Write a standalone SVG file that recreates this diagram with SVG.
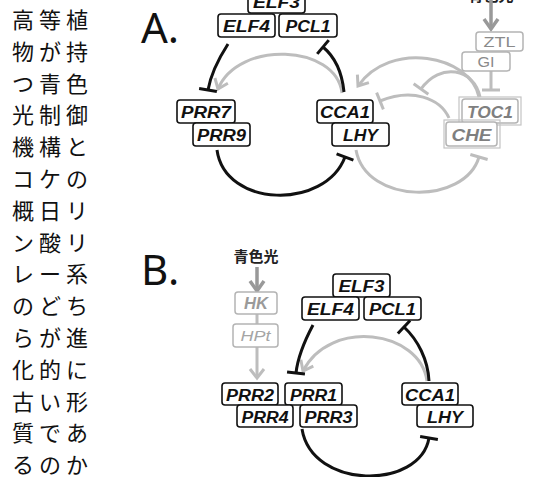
<svg xmlns="http://www.w3.org/2000/svg" width="558" height="477" viewBox="0 0 558 477">
<style>
.bg{fill:#fff}
.jp text{font-family:"Noto Sans CJK JP","Noto Sans CJK SC",sans-serif;font-size:22px;fill:#111}
.lbl{font-family:"Noto Sans","DejaVu Sans",sans-serif;font-size:42px;fill:#111}
.nb{fill:#fff;stroke:#111;stroke-width:1.6}
.nt{font-family:"Liberation Sans",Arial,sans-serif;font-size:16px;font-weight:bold;font-style:italic;fill:#111;text-anchor:middle}
.gb{fill:#fff;stroke:#b4b4b4;stroke-width:1.5}
.go{fill:none;stroke:#c4c4c4;stroke-width:1.2}
.gt{font-family:"Liberation Sans",Arial,sans-serif;font-size:15px;fill:#8a8a8a;text-anchor:middle}
.gti{font-family:"Liberation Sans",Arial,sans-serif;font-size:16px;font-weight:bold;font-style:italic;fill:#7f7f7f;text-anchor:middle}
.blue{font-family:"Noto Sans CJK JP",sans-serif;font-size:15px;font-weight:bold;fill:#222;text-anchor:middle}
.k{fill:none;stroke:#111;stroke-width:3}
.g{fill:none;stroke:#bdbdbd;stroke-width:3}
.gd{fill:none;stroke:#999;stroke-width:3.5}
</style>
<defs>
<marker id="tk" markerUnits="userSpaceOnUse" orient="auto" overflow="visible" markerWidth="20" markerHeight="20" refX="0" refY="0"><path d="M0,-9 L0,9" stroke="#111" stroke-width="3"/></marker>
<marker id="tg" markerUnits="userSpaceOnUse" orient="auto" overflow="visible" markerWidth="20" markerHeight="20" refX="0" refY="0"><path d="M0,-9 L0,9" stroke="#bdbdbd" stroke-width="3"/></marker>
<marker id="ag" markerUnits="userSpaceOnUse" orient="auto" overflow="visible" markerWidth="20" markerHeight="20" refX="0" refY="0"><path d="M-9,-7 L0,0 L-9,7" fill="none" stroke="#bdbdbd" stroke-width="3"/></marker>
<marker id="ad" markerUnits="userSpaceOnUse" orient="auto" overflow="visible" markerWidth="20" markerHeight="20" refX="0" refY="0"><path d="M-10,-7 L0,0 L-10,7" fill="none" stroke="#999" stroke-width="3.5"/></marker>
</defs>
<rect class="bg" x="0" y="0" width="558" height="477"/>

<g id="question" class="jp">
<text x="12" y="28">高</text><text x="39" y="28">等</text><text x="66" y="28">植</text>
<text x="12" y="59.8">物</text><text x="39" y="59.8">が</text><text x="66" y="59.8">持</text>
<text x="12" y="91.6">つ</text><text x="39" y="91.6">青</text><text x="66" y="91.6">色</text>
<text x="12" y="123.4">光</text><text x="39" y="123.4">制</text><text x="66" y="123.4">御</text>
<text x="12" y="155.2">機</text><text x="39" y="155.2">構</text><text x="66" y="155.2">と</text>
<text x="12" y="187">コ</text><text x="39" y="187">ケ</text><text x="66" y="187">の</text>
<text x="12" y="218.8">概</text><text x="39" y="218.8">日</text><text x="66" y="218.8">リ</text>
<text x="12" y="250.6">ン</text><text x="39" y="250.6">酸</text><text x="66" y="250.6">リ</text>
<text x="12" y="282.4">レ</text><text x="39" y="282.4">ー</text><text x="66" y="282.4">系</text>
<text x="12" y="314.2">の</text><text x="39" y="314.2">ど</text><text x="66" y="314.2">ち</text>
<text x="12" y="346">ら</text><text x="39" y="346">が</text><text x="66" y="346">進</text>
<text x="12" y="377.8">化</text><text x="39" y="377.8">的</text><text x="66" y="377.8">に</text>
<text x="12" y="409.6">古</text><text x="39" y="409.6">い</text><text x="66" y="409.6">形</text>
<text x="12" y="441.4">質</text><text x="39" y="441.4">で</text><text x="66" y="441.4">あ</text>
<text x="12" y="472.5">る</text><text x="39" y="472.5">の</text><text x="66" y="472.5">か</text>
</g>

<g id="labels">
<text class="lbl" x="141" y="43">A.</text>
<text class="lbl" x="141" y="285">B.</text>
<text class="blue" x="491" y="1">青色光</text>
<text class="blue" x="256" y="262">青色光</text>
</g>

<g id="connectors">
<path class="g" d="M342,93 C336,44 238,40 218,89" marker-end="url(#ag)"/>
<path class="g" d="M479,97 C470,55 390,40 358,86" marker-end="url(#ag)"/>
<path class="g" d="M480,97 C474,68 440,62 421,89" marker-end="url(#tg)"/>
<path class="g" d="M449,118 C440,98 412,88 380,101" marker-end="url(#tg)"/>
<path class="g" d="M356,150 C366,205 465,205 479,157" marker-end="url(#tg)"/>
<path class="g" d="M491,71 L491,90" marker-end="url(#tg)"/>
<path class="gd" d="M491,0 L491,29" marker-end="url(#ad)"/>
<path class="k" d="M228,44 C219,58 211,73 208,90" marker-end="url(#tk)"/>
<path class="k" d="M344,92 C342,72 335,57 323,47" marker-end="url(#tk)"/>
<path class="k" d="M217,150 C225,208 325,210 345,157" marker-end="url(#tk)"/>
<path class="gd" d="M257,267 L257,291" marker-end="url(#ad)"/>
<path class="g" d="M257,314 L257,324"/>
<path class="g" d="M257,347 L257,378" marker-end="url(#ag)"/>
<path class="g" d="M427,381 C420,330 330,318 303,371" marker-end="url(#ag)"/>
<path class="k" d="M313,325 C305,340 298,355 296,373" marker-end="url(#tk)"/>
<path class="k" d="M429,381 C428,360 418,340 404,327" marker-end="url(#tk)"/>
<path class="k" d="M302,429 C312,490 420,490 429,438" marker-end="url(#tk)"/>
</g>

<g id="A-ZTL"><rect class="gb" x="476" y="32" width="47" height="19" rx="3"/><text class="gt" x="499.5" y="47" textLength="32" lengthAdjust="spacingAndGlyphs">ZTL</text></g>
<g id="A-GI"><rect class="gb" x="462" y="52" width="48" height="19" rx="3"/><text class="gt" x="486" y="67" textLength="17" lengthAdjust="spacingAndGlyphs">GI</text></g>
<g id="A-TOC1"><rect class="go" x="459" y="97" width="62" height="28"/><rect class="gb" x="462" y="99" width="56" height="24" rx="3"/><text class="gti" x="490" y="117.5" textLength="46" lengthAdjust="spacingAndGlyphs">TOC1</text></g>
<g id="A-CHE"><rect class="go" x="444" y="120" width="56" height="28"/><rect class="gb" x="446" y="122" width="51" height="24" rx="3"/><text class="gti" x="471.5" y="140.5" textLength="40" lengthAdjust="spacingAndGlyphs">CHE</text></g>

<g id="A-ELF3"><rect class="nb" x="248" y="-10" width="57" height="23" rx="3"/><text class="nt" x="276.5" y="8" textLength="47" lengthAdjust="spacingAndGlyphs">ELF3</text></g>
<g id="A-ELF4"><rect class="nb" x="218" y="14" width="57" height="23" rx="3"/><text class="nt" x="246.5" y="32" textLength="47" lengthAdjust="spacingAndGlyphs">ELF4</text></g>
<g id="A-PCL1"><rect class="nb" x="279" y="14" width="58" height="23" rx="3"/><text class="nt" x="308" y="32" textLength="45" lengthAdjust="spacingAndGlyphs">PCL1</text></g>
<g id="A-PRR7"><rect class="nb" x="177" y="100" width="58" height="23" rx="3"/><text class="nt" x="206" y="118" textLength="50" lengthAdjust="spacingAndGlyphs">PRR7</text></g>
<g id="A-PRR9"><rect class="nb" x="193" y="123" width="57" height="23" rx="3"/><text class="nt" x="221.5" y="141" textLength="49" lengthAdjust="spacingAndGlyphs">PRR9</text></g>
<g id="A-CCA1"><rect class="nb" x="317" y="100" width="56" height="23" rx="3"/><text class="nt" x="345" y="118" textLength="50" lengthAdjust="spacingAndGlyphs">CCA1</text></g>
<g id="A-LHY"><rect class="nb" x="332" y="123" width="57" height="23" rx="3"/><text class="nt" x="360.5" y="141" textLength="35" lengthAdjust="spacingAndGlyphs">LHY</text></g>

<g id="B-HK"><rect class="gb" x="235" y="292" width="42" height="22" rx="3"/><text class="gti" x="256" y="309" textLength="24" lengthAdjust="spacingAndGlyphs" style="fill:#9a9a9a">HK</text></g>
<g id="B-HPt"><rect class="gb" x="233" y="324" width="45" height="23" rx="3"/><text class="gt" x="255.5" y="341" textLength="30" lengthAdjust="spacingAndGlyphs" style="font-style:italic;fill:#a5a5a5">HPt</text></g>
<g id="B-ELF3"><rect class="nb" x="333" y="274" width="57" height="23" rx="3"/><text class="nt" x="361.5" y="292" textLength="46" lengthAdjust="spacingAndGlyphs">ELF3</text></g>
<g id="B-ELF4"><rect class="nb" x="302" y="297" width="57" height="23" rx="3"/><text class="nt" x="330.5" y="315" textLength="47" lengthAdjust="spacingAndGlyphs">ELF4</text></g>
<g id="B-PCL1"><rect class="nb" x="364" y="297" width="57" height="23" rx="3"/><text class="nt" x="392.5" y="315" textLength="47" lengthAdjust="spacingAndGlyphs">PCL1</text></g>
<g id="B-PRR2"><rect class="nb" x="222" y="383" width="56" height="22" rx="3"/><text class="nt" x="250" y="400.5" textLength="48" lengthAdjust="spacingAndGlyphs">PRR2</text></g>
<g id="B-PRR1"><rect class="nb" x="285" y="383" width="57" height="22" rx="3"/><text class="nt" x="313.5" y="400.5" textLength="47" lengthAdjust="spacingAndGlyphs">PRR1</text></g>
<g id="B-PRR4"><rect class="nb" x="237" y="405" width="56" height="22" rx="3"/><text class="nt" x="265" y="422.5" textLength="47" lengthAdjust="spacingAndGlyphs">PRR4</text></g>
<g id="B-PRR3"><rect class="nb" x="300" y="405" width="57" height="22" rx="3"/><text class="nt" x="328.5" y="422.5" textLength="48" lengthAdjust="spacingAndGlyphs">PRR3</text></g>
<g id="B-CCA1"><rect class="nb" x="402" y="383" width="56" height="22" rx="3"/><text class="nt" x="430" y="400.5" textLength="50" lengthAdjust="spacingAndGlyphs">CCA1</text></g>
<g id="B-LHY"><rect class="nb" x="417" y="405" width="56" height="22" rx="3"/><text class="nt" x="445" y="422.5" textLength="36" lengthAdjust="spacingAndGlyphs">LHY</text></g>
</svg>
